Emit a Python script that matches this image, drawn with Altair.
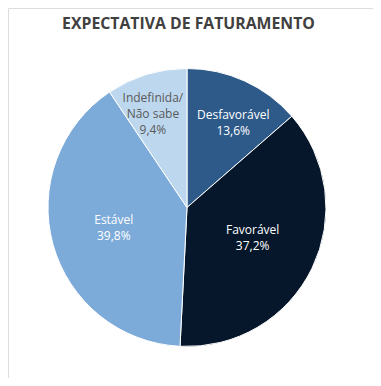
import altair as alt
import pandas as pd

categories = ["Desfavorável", "Favorável", "Estável", "Indefinida/\nNão sabe"]
values = [13.6, 37.2, 39.8, 9.4]
colors = ["#2E5A8A", "#06172B", "#7CAAD9", "#BDD7EE"]
text_colors = ["#FFFFFF", "#FFFFFF", "#FFFFFF", "#595959"]
title_text = "EXPECTATIVA DE FATURAMENTO"

df = pd.DataFrame({
    "cat": categories,
    "val": values,
    "order": list(range(len(categories))),
})
df["label"] = [f"{c}\n{str(v).replace('.', ',')}%" for c, v in zip(categories, values)]

CX, CY, R = 179, 199.5, 139

base = alt.Chart(df).encode(
    theta=alt.Theta("val:Q", stack=True),
    order=alt.Order("order:Q"),
    x=alt.value(CX),
    y=alt.value(CY),
)

pie = base.mark_arc(outerRadius=R, stroke="#FFFFFF", strokeWidth=1).encode(
    color=alt.Color("cat:N", scale=alt.Scale(domain=categories, range=colors), legend=None)
)

label_style = {
    "Desfavorável": dict(r=97, dx=6, dy=-4),
    "Favorável": dict(r=73, dx=0, dy=-9),
    "Estável": dict(r=76, dx=0, dy=-8),
    "Indefinida/\nNão sabe": dict(r=100, dx=-5, dy=-14),
}

layers = [pie]
for cat, tc in zip(categories, text_colors):
    st = label_style[cat]
    layers.append(
        base.mark_text(
            radius=st["r"], dx=st["dx"], dy=st["dy"], lineBreak="\n", lineHeight=16,
            font="Open Sans", fontSize=12, color=tc, align="center", baseline="middle",
        ).encode(text=alt.condition(alt.datum.cat == cat, "label:N", alt.value("")))
    )

title = alt.Chart(pd.DataFrame({"t": [title_text]})).mark_text(
    font="Open Sans", fontSize=15.8, fontWeight="bold", color="#404040",
    align="center", baseline="alphabetic",
).encode(text="t:N", x=alt.value(180.5), y=alt.value(20.5))
layers.append(title)

chart = alt.layer(*layers).properties(
    width=365, height=370, padding=0, autosize=alt.AutoSizeParams(type="none")
).configure_view(stroke=None).configure(background="#FFFFFF")

chart.save("out.html", embed_options={"renderer": "svg", "actions": False})
